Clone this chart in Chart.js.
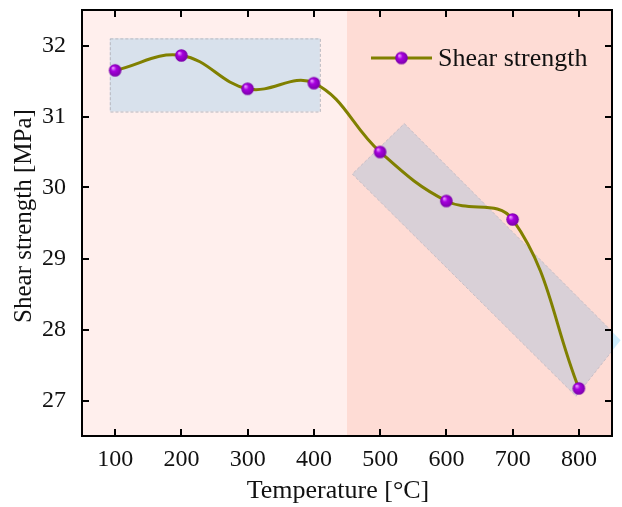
<!DOCTYPE html>
<html><head><meta charset="utf-8">
<script src="https://cdn.jsdelivr.net/npm/chart.js@4/dist/chart.umd.min.js"></script>
<style>html,body{margin:0;padding:0;background:#fff}#wrap{width:622px;height:507px}</style>
</head><body><div id="wrap"><canvas id="c" width="622" height="507"></canvas></div>
<script>
// ---- data ----
const temperatures = [100, 200, 300, 400, 500, 600, 700, 800];
const shearStrength = [31.65, 31.86, 31.39, 31.47, 30.50, 29.81, 29.55, 27.17];
const xTickValues = [100, 200, 300, 400, 500, 600, 700, 800];
const yTickValues = [27, 28, 29, 30, 31, 32];
const xRange = [50, 850];
const yRange = [26.5, 32.5];
const regionSplit = 450;
const lowBandX = [92, 409];
const lowBandY = [31.07, 32.1];
const trendBoxX = [536.5, 863, 795.7, 458];
const trendBoxY = [30.90, 27.85, 27.06, 30.19];
const seriesName = 'Shear strength';
const xTitle = 'Temperature [°C]';
const yTitle = 'Shear strength [MPa]';

const FONT = "'Liberation Serif', 'Times New Roman', serif";

function makeSphere(r) {
  const c = document.createElement('canvas');
  const s = Math.ceil(r * 2 + 2);
  c.width = s; c.height = s;
  const g = c.getContext('2d');
  const cx = s / 2, cy = s / 2;
  const grad = g.createRadialGradient(cx - r * 0.35, cy - r * 0.4, r * 0.1, cx, cy, r);
  grad.addColorStop(0, '#e68bff');
  grad.addColorStop(0.35, '#a800e0');
  grad.addColorStop(1, '#7a00a8');
  g.fillStyle = grad;
  g.beginPath(); g.arc(cx, cy, r, 0, Math.PI * 2); g.fill();
  return c;
}
const sphere = makeSphere(6.3);

const decor = {
  id: 'decor',
  beforeDraw(chart) {
    const ctx = chart.ctx, a = chart.chartArea;
    const xs = chart.scales.x, ys = chart.scales.y;
    ctx.save();
    ctx.fillStyle = '#fff';
    ctx.fillRect(0, 0, chart.width, chart.height);
    ctx.beginPath();
    trendBoxX.forEach((v, i) => {
      const px = xs.getPixelForValue(v), py = ys.getPixelForValue(trendBoxY[i]);
      i ? ctx.lineTo(px, py) : ctx.moveTo(px, py);
    });
    ctx.closePath();
    ctx.fillStyle = '#cdedfd';
    ctx.fill();
    const sx = xs.getPixelForValue(regionSplit);
    ctx.fillStyle = '#ffefed';
    ctx.fillRect(a.left, a.top, sx - a.left, a.bottom - a.top);
    ctx.fillStyle = '#fedcd5';
    ctx.fillRect(sx, a.top, a.right - sx, a.bottom - a.top);
    ctx.restore();
  },
  beforeDatasetsDraw(chart) {
    const ctx = chart.ctx, a = chart.chartArea;
    const xs = chart.scales.x, ys = chart.scales.y;
    ctx.save();
    ctx.beginPath(); ctx.rect(a.left, a.top, a.right - a.left, a.bottom - a.top); ctx.clip();
    const x0 = xs.getPixelForValue(lowBandX[0]), x1 = xs.getPixelForValue(lowBandX[1]);
    const y0 = ys.getPixelForValue(lowBandY[1]), y1 = ys.getPixelForValue(lowBandY[0]);
    ctx.fillStyle = '#d8e1ec';
    ctx.fillRect(x0, y0, x1 - x0, y1 - y0);
    ctx.setLineDash([3, 2]);
    ctx.strokeStyle = '#b8b8c0';
    ctx.lineWidth = 1;
    ctx.strokeRect(x0 + 0.5, y0 + 0.5, x1 - x0, y1 - y0);
    ctx.beginPath();
    trendBoxX.forEach((v, i) => {
      const px = xs.getPixelForValue(v), py = ys.getPixelForValue(trendBoxY[i]);
      i ? ctx.lineTo(px, py) : ctx.moveTo(px, py);
    });
    ctx.closePath();
    ctx.fillStyle = '#d9d0d7';
    ctx.fill();
    ctx.strokeStyle = '#c8bec6';
    ctx.stroke();
    ctx.restore();
  },
  afterDatasetsDraw(chart) {
    const ctx = chart.ctx, a = chart.chartArea;
    const xs = chart.scales.x, ys = chart.scales.y;
    ctx.save();
    ctx.strokeStyle = '#000';
    ctx.lineWidth = 2;
    ctx.strokeRect(a.left, a.top, a.right - a.left, a.bottom - a.top);
    const L = 7;
    ctx.beginPath();
    xTickValues.forEach(v => {
      const px = Math.round(xs.getPixelForValue(v));
      ctx.moveTo(px, a.bottom); ctx.lineTo(px, a.bottom - L);
      ctx.moveTo(px, a.top); ctx.lineTo(px, a.top + L);
    });
    yTickValues.forEach(v => {
      const py = Math.round(ys.getPixelForValue(v));
      ctx.moveTo(a.left, py); ctx.lineTo(a.left + L, py);
      ctx.moveTo(a.right, py); ctx.lineTo(a.right - L, py);
    });
    ctx.stroke();
    // legend
    const ly = a.top + 48;
    const lx = a.left + 289;
    ctx.strokeStyle = '#808000';
    ctx.lineWidth = 3;
    ctx.beginPath(); ctx.moveTo(lx, ly); ctx.lineTo(lx + 61, ly); ctx.stroke();
    ctx.drawImage(sphere, lx + 30.5 - sphere.width / 2, ly - sphere.height / 2);
    ctx.fillStyle = '#111';
    ctx.font = "26px " + FONT;
    ctx.textBaseline = 'middle';
    ctx.textAlign = 'left';
    ctx.fillText(seriesName, lx + 67, ly + 1);
    // axis titles
    ctx.textAlign = 'center';
    ctx.fillText(xTitle, a.left + 256, a.bottom + 55);
    ctx.font = "25px " + FONT;
    ctx.translate(24, (a.top + a.bottom) / 2 - 7);
    ctx.rotate(-Math.PI / 2);
    ctx.fillText(yTitle, 0, 0);
    ctx.restore();
  }
};

new Chart(document.getElementById('c'), {
  type: 'line',
  data: {
    datasets: [{
      label: seriesName,
      data: temperatures.map((t, i) => ({ x: t, y: shearStrength[i] })),
      borderColor: '#808000',
      borderWidth: 3,
      tension: 0.4,
      pointStyle: sphere,
      pointRadius: 6,
      pointHoverRadius: 6
    }]
  },
  options: {
    responsive: false,
    animation: false,
    devicePixelRatio: 1,
    layout: { padding: { left: 12, right: 10, top: 10, bottom: 0 } },
    plugins: { legend: { display: false }, tooltip: { enabled: false } },
    scales: {
      x: {
        type: 'linear', min: xRange[0], max: xRange[1],
        grid: { display: false }, border: { display: false },
        afterBuildTicks: s => { s.ticks = xTickValues.map(v => ({ value: v })); },
        afterFit: s => { s.height = 71; s.paddingLeft = 0; s.paddingRight = 0; },
        ticks: { color: '#111', font: { family: FONT, size: 24 }, padding: 1, maxRotation: 0, autoSkip: false },
        title: { display: false }
      },
      y: {
        type: 'linear', min: yRange[0], max: yRange[1],
        grid: { display: false }, border: { display: false },
        afterBuildTicks: s => { s.ticks = yTickValues.map(v => ({ value: v })); },
        afterFit: s => { s.width = 70; s.paddingTop = 0; s.paddingBottom = 0; },
        ticks: { color: '#111', font: { family: FONT, size: 24 }, padding: 8 },
        title: { display: false }
      }
    }
  },
  plugins: [decor]
});
</script>
</body></html>
